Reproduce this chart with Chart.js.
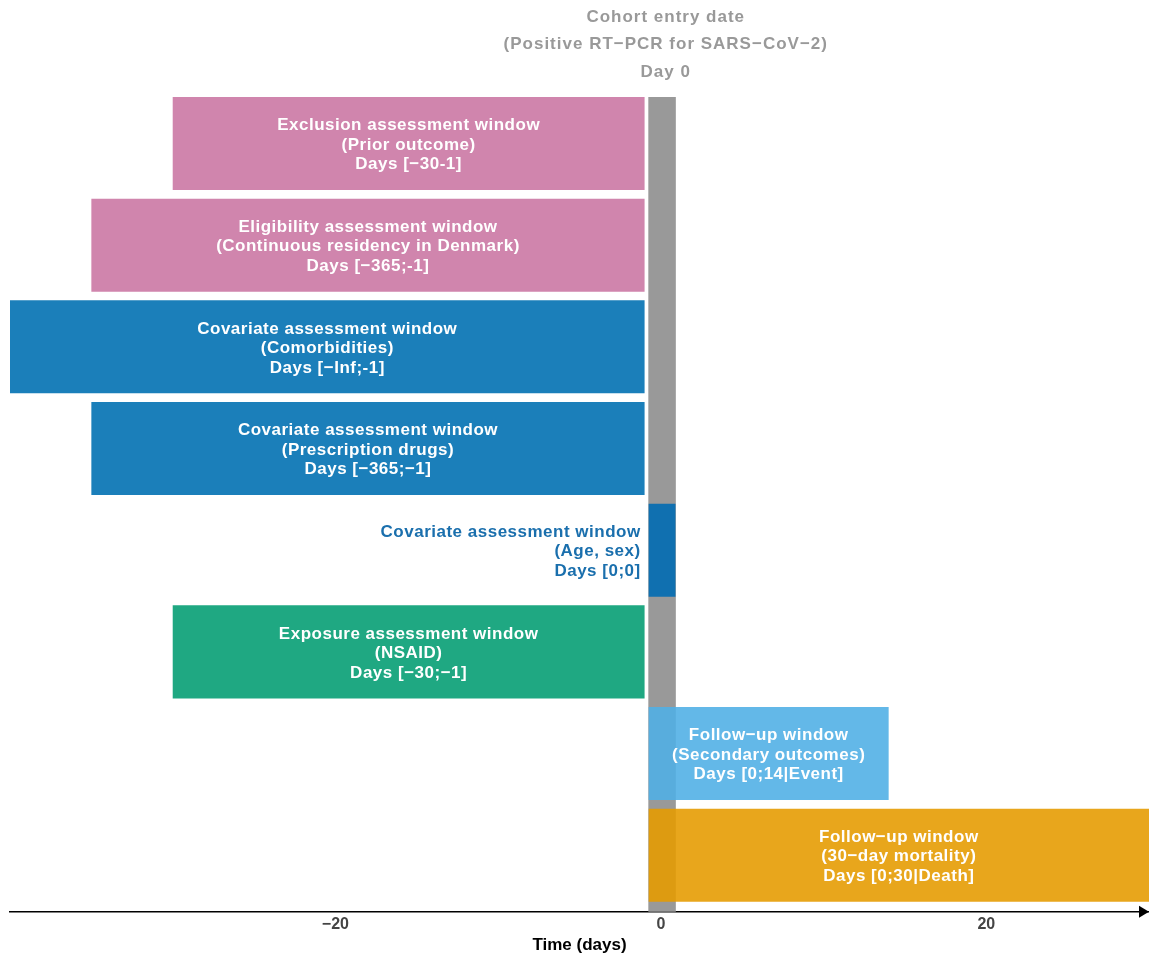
<!DOCTYPE html>
<html>
<head>
<meta charset="utf-8">
<script src="https://cdn.jsdelivr.net/npm/chart.js@4.4.0/dist/chart.umd.min.js"></script>
<style>
  html, body { margin: 0; padding: 0; background: #fff; }
  #wrap { width: 1149px; height: 955px; }
</style>
</head>
<body>
<div id="wrap"><canvas id="timeline"></canvas></div>
<script>
// Study design windows, one row per window (top to bottom)
const rows = [1, 2, 3, 4, 5, 6, 7, 8];
const starts = [-30, -35, -40, -35, -0.75, -30, -0.75, -0.75];
const ends = [-1, -1, -1, -1, 0.9, -1, 14, 30];
const windowNames = [
    'Exclusion assessment window',
    'Eligibility assessment window',
    'Covariate assessment window',
    'Covariate assessment window',
    'Covariate assessment window',
    'Exposure assessment window',
    'Follow\u2212up window',
    'Follow\u2212up window'
];
const windowDetails = [
    '(Prior outcome)',
    '(Continuous residency in Denmark)',
    '(Comorbidities)',
    '(Prescription drugs)',
    '(Age, sex)',
    '(NSAID)',
    '(Secondary outcomes)',
    '(30\u2212day mortality)'
];
const windowDays = [
    'Days [\u221230-1]',
    'Days [\u2212365;-1]',
    'Days [\u2212Inf;-1]',
    'Days [\u2212365;\u22121]',
    'Days [0;0]',
    'Days [\u221230;\u22121]',
    'Days [0;14|Event]',
    'Days [0;30|Death]'
];
const barColours = [
    '#d085ad', '#d085ad', '#1b7fba', '#1b7fba',
    '#1070b0', '#1fa882', 'rgba(80,175,229,0.89)', 'rgba(229,155,0,0.89)'
];
// Day 0 column
const dayZero = [-0.75, 0.9];
const xTicks = [-20, 0, 20];
const headerLines = ['Cohort entry date', '(Positive RT\u2212PCR for SARS\u2212CoV\u22122)', 'Day 0'];

const FONT = '"Liberation Sans", Arial, sans-serif';

// Text inside (or beside) each window bar
const barLabels = {
    id: 'barLabels',
    afterDatasetsDraw(chart) {
        const ctx = chart.ctx;
        const meta = chart.getDatasetMeta(0);
        ctx.save();
        ctx.font = 'bold 17px ' + FONT;
        ctx.letterSpacing = '0.5px';
        ctx.textBaseline = 'middle';
        meta.data.forEach((bar, i) => {
            const lines = [windowNames[i], windowDetails[i], windowDays[i]];
            let x, align, colour;
            if (i === 4) {
                // too narrow, label sits to the left
                x = Math.min(bar.x, bar.base) - 8;
                align = 'right';
                colour = '#1a6fad';
            } else {
                x = (bar.x + bar.base) / 2;
                align = 'center';
                colour = '#ffffff';
            }
            ctx.textAlign = align;
            ctx.fillStyle = colour;
            lines.forEach((t, k) => {
                ctx.fillText(t, x, bar.y + 1.5 + (k - 1) * 19.5);
            });
        });
        ctx.restore();
    }
};

// Header over day 0 plus arrow on the time axis
const decorations = {
    id: 'decorations',
    afterDraw(chart) {
        const ctx = chart.ctx;
        const xs = chart.scales.x;
        const area = chart.chartArea;
        ctx.save();
        ctx.font = 'bold 17px ' + FONT;
        ctx.letterSpacing = '1px';
        ctx.fillStyle = '#999999';
        ctx.textAlign = 'center';
        ctx.textBaseline = 'middle';
        const cx = xs.getPixelForValue(0.3);
        headerLines.forEach((t, k) => {
            ctx.fillText(t, cx, area.top - 80 + k * 27.5);
        });

        ctx.fillStyle = '#000';
        ctx.beginPath();
        ctx.moveTo(area.right, area.bottom);
        ctx.lineTo(area.right - 10, area.bottom - 6);
        ctx.lineTo(area.right - 10, area.bottom + 6);
        ctx.closePath();
        ctx.fill();
        ctx.restore();
    }
};

const ctx = document.getElementById('timeline').getContext('2d');
new Chart(ctx, {
    type: 'bar',
    data: {
        datasets: [
            {
                label: 'Windows',
                yAxisID: 'y',
                data: rows.map((r, i) => ({ x: [starts[i], ends[i]], y: r })),
                backgroundColor: barColours,
                borderWidth: 0,
                categoryPercentage: 1,
                barPercentage: 0.915,
                grouped: false,
                order: 1
            },
            {
                label: 'Day 0',
                yAxisID: 'yg',
                data: [dayZero],
                backgroundColor: '#999999',
                borderWidth: 0,
                categoryPercentage: 1,
                barPercentage: 1,
                grouped: false,
                order: 2
            }
        ]
    },
    options: {
        indexAxis: 'y',
        responsive: true,
        maintainAspectRatio: false,
        animation: false,
        layout: { padding: { top: 97, left: 10, right: 0, bottom: 1 } },
        scales: {
            x: {
                type: 'linear',
                min: -40,
                max: 30,
                afterBuildTicks: (scale) => { scale.ticks = xTicks.map(v => ({ value: v })); },
                grid: { display: false, drawTicks: false },
                border: { display: true, color: '#000', width: 1.5 },
                ticks: {
                    padding: 3,
                    color: '#444444',
                    font: { family: FONT, size: 16, weight: 'bold' },
                    callback: (v) => String(v).replace('-', '\u2212')
                },
                title: {
                    display: true,
                    text: 'Time (days)',
                    color: '#000',
                    font: { family: FONT, size: 17, weight: 'bold', lineHeight: 1 },
                    padding: { top: 0, bottom: 0 }
                }
            },
            y: {
                type: 'linear',
                reverse: true,
                min: 0.543,
                max: 8.556,
                offset: false,
                display: false,
                afterBuildTicks: (scale) => { scale.ticks = rows.map(v => ({ value: v })); }
            },
            yg: {
                type: 'category',
                labels: ['Day 0'],
                offset: true,
                display: false
            }
        },
        plugins: {
            legend: { display: false },
            tooltip: { enabled: false },
            title: { display: false }
        }
    },
    plugins: [barLabels, decorations]
});
</script>
</body>
</html>
